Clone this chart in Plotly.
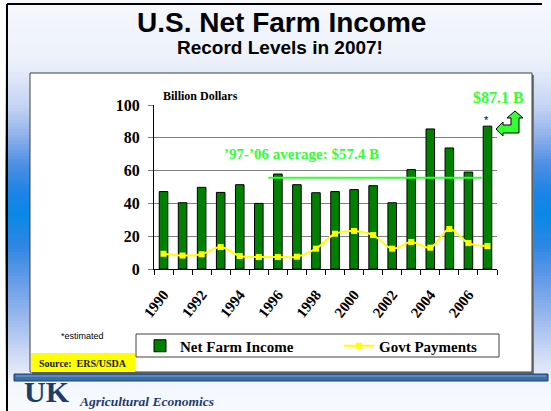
import plotly.graph_objects as go

W, H = 551, 411

years = list(range(1990, 2008))
net_farm_income = [47.2, 40.4, 49.8, 46.7, 51.4, 40.0, 57.9, 51.4, 46.5, 47.2,
                   48.4, 50.8, 40.4, 60.6, 85.4, 73.8, 59.1, 87.1]
govt_payments = [9.3, 8.2, 9.0, 13.4, 7.9, 7.3, 7.3, 7.5, 12.4, 21.5,
                 23.2, 20.7, 12.4, 16.5, 13.0, 24.4, 15.8, 14.0]
tick_years = list(range(1990, 2007, 2))
avg_level = 55.7
avg_start, avg_end = 1995.5, 2006.7

SERIF = "Liberation Serif, Times New Roman, serif"
SANS = "Liberation Sans, Arial, sans-serif"
BRIGHT_GREEN = "#33FF33"


def px(x):
    return x / W


def py(y):
    return 1 - y / H


shapes = []

# background gradient (slide)
stops = [(0, (246, 248, 253)), (60, (236, 241, 251)), (85, (216, 226, 246)),
         (110, (190, 208, 242)), (135, (145, 178, 235)), (165, (75, 142, 228)),
         (195, (25, 132, 230)), (215, (10, 136, 231)), (245, (45, 135, 228)),
         (280, (100, 155, 232)), (320, (158, 186, 238)), (350, (200, 215, 244)),
         (372, (226, 233, 248)), (382, (242, 246, 252)), (411, (248, 250, 254))]


def color_at(y):
    for (y0, c0), (y1, c1) in zip(stops[:-1], stops[1:]):
        if y0 <= y <= y1:
            t = (y - y0) / (y1 - y0) if y1 > y0 else 0
            c = [round(a + (b - a) * t) for a, b in zip(c0, c1)]
            return "rgb(%d,%d,%d)" % tuple(c)
    return "rgb(248,250,254)"


step = 3
for y in range(0, H, step):
    shapes.append(dict(type="rect", xref="paper", yref="paper",
                       x0=0, x1=1, y0=py(y + step), y1=py(y),
                       fillcolor=color_at(y + step / 2), line=dict(width=0),
                       layer="below"))
shapes.append(dict(type="rect", xref="paper", yref="paper", x0=0, x1=px(5),
                   y0=0, y1=1, fillcolor="white", line=dict(width=0), layer="below"))

# slide border lines
shapes.append(dict(type="line", xref="paper", yref="paper", x0=px(7), x1=px(542),
                   y0=py(4), y1=py(4), line=dict(color="black", width=2), layer="below"))
shapes.append(dict(type="line", xref="paper", yref="paper", x0=px(7), x1=px(7),
                   y0=py(4), y1=py(411), line=dict(color="black", width=2), layer="below"))

# chart box shadow + box
shapes.append(dict(type="rect", xref="paper", yref="paper", x0=px(32), x1=px(534),
                   y0=py(374), y1=py(75), fillcolor="#7a7a7a", line=dict(width=0), layer="below"))
shapes.append(dict(type="rect", xref="paper", yref="paper", x0=px(30), x1=px(532),
                   y0=py(372), y1=py(73), fillcolor="white",
                   line=dict(color="#404040", width=1), layer="below"))

# blue stripe
shapes.append(dict(type="rect", xref="paper", yref="paper", x0=px(14), x1=px(548),
                   y0=py(381), y1=py(374), fillcolor="#3D6FA6",
                   line=dict(color="#1F3F70", width=1), layer="below"))
shapes.append(dict(type="line", xref="paper", yref="paper", x0=px(16), x1=px(546),
                   y0=py(376), y1=py(376), line=dict(color="#7FA6D3", width=1), layer="below"))

# source box
shapes.append(dict(type="rect", xref="paper", yref="paper", x0=px(31), x1=px(135),
                   y0=py(372), y1=py(353), fillcolor="#FFFF00", line=dict(width=0), layer="below"))

# legend box
shapes.append(dict(type="rect", xref="paper", yref="paper", x0=px(136), x1=px(499),
                   y0=py(357), y1=py(334), fillcolor="white",
                   line=dict(color="#404040", width=1), layer="below"))

# average line
shapes.append(dict(type="line", xref="x", yref="y", x0=avg_start, x1=avg_end,
                   y0=avg_level, y1=avg_level, line=dict(color=BRIGHT_GREEN, width=2)))

# bent green arrow
arrow_pts = [(496, 129), (503, 122), (503, 125), (511, 125), (511, 118), (507, 118),
             (515, 111), (523, 118), (519, 118), (519, 133), (503, 133), (503, 136)]
path = "M " + " L ".join("%.4f,%.4f" % (px(x), py(y)) for x, y in arrow_pts) + " Z"
shapes.append(dict(type="path", xref="paper", yref="paper", path=path,
                   fillcolor=BRIGHT_GREEN, line=dict(color="black", width=1)))

fig = go.Figure()
fig.add_trace(go.Bar(x=years, y=net_farm_income, name="<b>Net Farm Income</b>", width=0.45,
                     marker=dict(color="#008000", line=dict(color="black", width=1))))
fig.add_trace(go.Scatter(x=years, y=govt_payments, name="<b>Govt Payments</b>", mode="lines+markers",
                         line=dict(color="#FFFF00", width=2, shape="spline"),
                         marker=dict(symbol="square", size=6, color="#FFFF00")))

annotations = [
    dict(text="<b>U.S. Net Farm Income</b>", x=px(281), y=py(22), font=dict(family=SANS, size=28, color="black")),
    dict(text="<b>Record Levels in 2007!</b>", x=px(280), y=py(48), font=dict(family=SANS, size=19, color="black")),
    dict(text="<b>Billion Dollars</b>", x=px(161), y=py(96), xanchor="left", font=dict(family=SERIF, size=12, color="black")),
    dict(text="<b>\u201997-\u201906 average: $57.4 B</b>", x=px(301), y=py(154), font=dict(family=SERIF, size=15, color=BRIGHT_GREEN)),
    dict(text="<b>$87.1 B</b>", x=px(498), y=py(98), font=dict(family=SERIF, size=16, color=BRIGHT_GREEN)),
    dict(text="*", x=px(486), y=py(120), font=dict(family=SANS, size=11, color="black")),
    dict(text="*estimated", x=px(82), y=py(336), font=dict(family=SANS, size=9, color="black")),
    dict(text="<b>Source:  ERS/USDA</b>", x=px(83), y=py(363), font=dict(family=SERIF, size=10, color="#222222")),
    dict(text="<b>UK</b>", x=px(22), y=py(410), xanchor="left", yanchor="bottom", font=dict(family=SERIF, size=30, color="#1C3C6E")),
    dict(text="<i><b>Agricultural Economics</b></i>", x=px(77), y=py(401), xanchor="left", font=dict(family=SERIF, size=13.5, color="#1C3C6E")),
]
for a in annotations:
    a.update(xref="paper", yref="paper", showarrow=False)
    a.setdefault("xanchor", "center")
    a.setdefault("yanchor", "middle")

fig.update_layout(
    autosize=True,
    margin=dict(l=0, r=0, t=0, b=0, autoexpand=False),
    paper_bgcolor="white", plot_bgcolor="rgba(0,0,0,0)",
    shapes=shapes, annotations=annotations,
    showlegend=True,
    legend=dict(orientation="h", x=px(140), y=py(346), xanchor="left", yanchor="middle",
                bgcolor="rgba(0,0,0,0)", borderwidth=0,
                entrywidth=154, entrywidthmode="pixels",
                font=dict(family=SERIF, size=15, color="black"),
                traceorder="normal"),
    xaxis=dict(domain=[px(154), px(497)], range=[1989.5, 2007.5],
               tickvals=tick_years, ticktext=["<b>%d</b>" % y for y in tick_years],
               tickangle=-52, ticks="", showgrid=False,
               showline=True, linecolor="black", linewidth=1,
               tickfont=dict(family=SERIF, size=15, color="black"),
               ticklabelstandoff=10,
               minor=dict(ticks="outside", tick0=1989.5, dtick=1, ticklen=5,
                          tickcolor="black", showgrid=False),
               fixedrange=True),
    yaxis=dict(domain=[py(269), py(105)], range=[0, 100],
               tickvals=[0, 20, 40, 60, 80, 100],
               ticktext=["<b>%d</b>" % v for v in [0, 20, 40, 60, 80, 100]],
               showgrid=True, gridcolor="#808080", gridwidth=1,
               showline=True, linecolor="black", linewidth=1,
               ticks="outside", ticklen=5, tickcolor="#808080",
               zeroline=False, ticklabelstandoff=5,
               tickfont=dict(family=SERIF, size=16, color="black"),
               fixedrange=True),
    bargap=0.55,
)

fig.write_html("out.html",
               default_width="%dpx" % W,
               default_height="%dpx; position:absolute; left:0; top:0" % H,
               post_script="document.body.style.margin='0';",
               config={"displayModeBar": False})
